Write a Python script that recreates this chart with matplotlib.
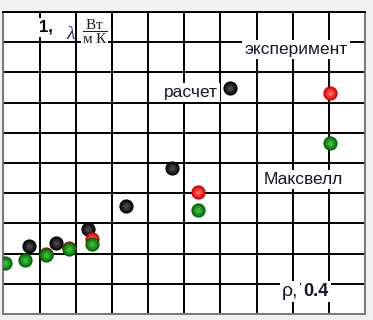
# -*- coding: utf-8 -*-

import matplotlib.pyplot as plt

plt.rcParams['mathtext.fontset'] = 'custom'
plt.rcParams['mathtext.rm'] = 'Liberation Serif'
plt.rcParams['mathtext.it'] = 'Liberation Serif:italic'

# Данные (в единицах сетки 0..10)
calc_x = [0.71, 1.45, 2.33, 3.38, 4.67, 6.26]
calc_y = [2.25, 2.36, 2.81, 3.59, 4.84, 7.49]

exp_x = [1.18, 1.81, 2.45, 5.37, 9.02]
exp_y = [2.00, 2.19, 2.48, 4.05, 7.33]

maxw_x = [0.04, 0.59, 1.18, 1.81, 2.45, 5.37, 9.02]
maxw_y = [1.68, 1.79, 1.96, 2.14, 2.33, 3.44, 5.67]

txt_font = ['Liberation Sans Narrow', 'Liberation Sans', 'DejaVu Sans']
txt_color = '#15152a'

fig = plt.figure(figsize=(3.73, 3.2), dpi=100, facecolor='#f0f0f0')
ax = fig.add_axes([3.5 / 373, 6 / 320, 361.5 / 373, 302 / 320])
ax.set_facecolor('white')

ax.set_xlim(0, 10)
ax.set_ylim(0, 10)
ax.set_xticks(range(11))
ax.set_yticks(range(11))
ax.tick_params(length=0, labelbottom=False, labelleft=False)
ax.grid(True, color='black', lw=1.4)
ax.set_axisbelow(True)
for side in ['left', 'bottom', 'right']:
    ax.spines[side].set_color('#7a7a7a')
    ax.spines[side].set_linewidth(1.4)
ax.spines['top'].set_color('black')
ax.spines['top'].set_linewidth(1.4)


def spheres(xs, ys, shades, edge, z):
    # концентрические круги — грубая имитация объёма
    sizes = [9.4, 6.5, 3.5]
    for i, (s, c) in enumerate(zip(sizes, shades)):
        ax.plot(xs, ys, 'o', ms=s, mfc=c, mec=edge if i == 0 else 'none',
                mew=0.8, zorder=z + i * 0.01)


spheres(calc_x, calc_y, ['#101010', '#2a2a2a', '#454545'], 'black', 3)
spheres(exp_x, exp_y, ['#f01010', '#ff3030', '#ff6a6a'], '#c00000', 4)
spheres(maxw_x, maxw_y, ['#0f800f', '#1e9a1e', '#45b045'], '#005a00', 5)

box = dict(facecolor='white', edgecolor='none', pad=1.5)

ax.text(0.098, 0.950, '1,', transform=ax.transAxes, fontsize=12, fontweight='bold',
        family=['Liberation Sans', 'DejaVu Sans'], ha='left', va='center',
        bbox=box, zorder=6)
ax.text(0.187, 0.930, r'$\lambda$', transform=ax.transAxes, fontsize=14,
        color='#1f2f6f', ha='center', va='center', zorder=6)
ax.text(0.252, 0.934, r'$\dfrac{\mathrm{Вт}}{\mathrm{м\ К}}$', transform=ax.transAxes,
        fontsize=11, color='#202020', ha='center', va='center',
        bbox=dict(facecolor='white', edgecolor='none', pad=0.5), zorder=6)

ax.text(0.809, 0.860, 'эксперимент', transform=ax.transAxes, fontsize=12.5,
        family=txt_font, color=txt_color, ha='center', va='baseline',
        bbox=box, zorder=6)
ax.text(0.5925, 0.7175, 'расчет', transform=ax.transAxes, fontsize=12.5,
        family=txt_font, color=txt_color, ha='right', va='baseline',
        bbox=box, zorder=6)
ax.text(0.7206, 0.4295, 'Максвелл', transform=ax.transAxes, fontsize=12.5,
        family=txt_font, color=txt_color, ha='left', va='baseline',
        bbox=box, zorder=6)
ax.text(0.7696, 0.0596, 'ρ,', transform=ax.transAxes, fontsize=14,
        family=txt_font, color=txt_color, ha='left', va='baseline',
        bbox=box, zorder=6)
ax.text(0.830, 0.0596, '0.4', transform=ax.transAxes, fontsize=13,
        fontweight='bold', family=txt_font, color=txt_color, ha='left',
        va='baseline', bbox=box, zorder=6)

fig.savefig('out.png', dpi=100, facecolor=fig.get_facecolor())
